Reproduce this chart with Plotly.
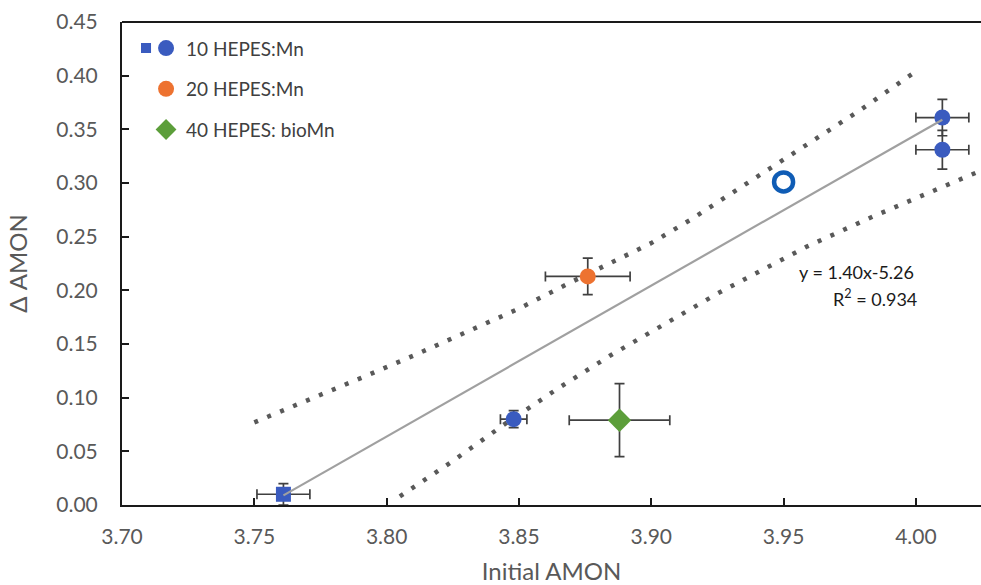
import plotly.graph_objects as go

# ---- data ----
sq_x = [3.761]; sq_y = [0.010]; sq_ex = [0.010]; sq_ey = [0.010]
c10_x = [3.848, 4.010, 4.010]; c10_y = [0.080, 0.361, 0.331]
c10_ex = [0.005, 0.010, 0.010]; c10_ey = [0.008, 0.017, 0.018]
c20_x = [3.876]; c20_y = [0.213]; c20_ex = [0.016]; c20_ey = [0.017]
c40_x = [3.888]; c40_y = [0.079]; c40_ex = [0.019]; c40_ey = [0.034]
open_x = [3.950]; open_y = [0.301]
fit_x = [3.761, 4.010]; fit_y = [0.009, 0.359]
upper_x = [3.750, 3.770, 3.790, 3.810, 3.830, 3.850, 3.870, 3.890, 3.900, 3.915, 3.934, 3.949, 3.979, 4.000]
upper_y = [0.077, 0.097, 0.118, 0.139, 0.161, 0.183, 0.208, 0.232, 0.244, 0.266, 0.296, 0.320, 0.368, 0.404]
lower_x = [3.805, 3.825, 3.845, 3.865, 3.885, 3.905, 3.925, 3.945, 3.959, 3.984, 4.025]
lower_y = [0.008, 0.041, 0.076, 0.109, 0.140, 0.169, 0.197, 0.223, 0.241, 0.269, 0.312]
x_ticks = [3.70, 3.75, 3.80, 3.85, 3.90, 3.95, 4.00]
y_ticks = [0.00, 0.05, 0.10, 0.15, 0.20, 0.25, 0.30, 0.35, 0.40, 0.45]

FONT = "Lato, 'Open Sans', sans-serif"
EB = dict(color="#404040", thickness=1.7, width=5)
BLUE = "#3a5bbf"
DOT = dict(color="#595959", width=4.5, dash="4px,10px")

fig = go.Figure()
fig.add_trace(go.Scatter(x=upper_x, y=upper_y, mode="lines", showlegend=False, line=DOT))
fig.add_trace(go.Scatter(x=lower_x, y=lower_y, mode="lines", showlegend=False, line=DOT))
fig.add_trace(go.Scatter(x=sq_x, y=sq_y, mode="markers", showlegend=False,
                         error_x=dict(type="data", array=sq_ex, **EB),
                         error_y=dict(type="data", array=sq_ey, **EB),
                         marker=dict(symbol="square", size=15, color=BLUE)))
fig.add_trace(go.Scatter(x=c10_x, y=c10_y, mode="markers", name="10 HEPES:Mn", legendgroup="a",
                         error_x=dict(type="data", array=c10_ex, **EB),
                         error_y=dict(type="data", array=c10_ey, **EB),
                         marker=dict(symbol="circle", size=16, color=BLUE)))
fig.add_trace(go.Scatter(x=c20_x, y=c20_y, mode="markers", name="20 HEPES:Mn", legendgroup="b",
                         error_x=dict(type="data", array=c20_ex, **EB),
                         error_y=dict(type="data", array=c20_ey, **EB),
                         marker=dict(symbol="circle", size=16, color="#ed7230")))
fig.add_trace(go.Scatter(x=c40_x, y=c40_y, mode="markers", name="40 HEPES: bioMn", legendgroup="c",
                         error_x=dict(type="data", array=c40_ex, **EB),
                         error_y=dict(type="data", array=c40_ey, **EB),
                         marker=dict(symbol="diamond", size=18, color="#5c9e3a")))
fig.add_trace(go.Scatter(x=open_x, y=open_y, mode="markers", showlegend=False,
                         marker=dict(symbol="circle-open", size=19, color="#0f5cb5",
                                     line=dict(width=4.5, color="#0f5cb5"))))
fig.add_trace(go.Scatter(x=fit_x, y=fit_y, mode="lines", showlegend=False,
                         line=dict(color="#a0a0a0", width=2.2)))

fig.add_annotation(x=4.0, y=0.217, xref="x", yref="y", xanchor="right", yanchor="middle",
                   text="y = 1.40x-5.26", showarrow=False,
                   font=dict(family=FONT, size=18, color="#1a1a1a"))
fig.add_annotation(x=4.001, y=0.193, xref="x", yref="y", xanchor="right", yanchor="middle",
                   text="R<sup>2</sup> = 0.934", showarrow=False,
                   font=dict(family=FONT, size=18, color="#1a1a1a"))

fig.update_layout(
    width=981, height=585,
    margin=dict(l=122, r=0, t=22, b=80),
    plot_bgcolor="white", paper_bgcolor="white",
    font=dict(family=FONT, size=21, color="#595959"),
    legend=dict(x=0.028, y=0.985, xanchor="left", yanchor="top",
                bgcolor="rgba(0,0,0,0)", font=dict(size=19, color="#404040"),
                traceorder="grouped", tracegroupgap=13),
    xaxis=dict(range=[3.70, 4.0246], tickvals=x_ticks, tickformat=".2f",
               ticks="inside", ticklen=7, tickcolor="#1a1a1a", tickwidth=1.5,
               ticklabelstandoff=12, automargin=False,
               showline=True, linecolor="#1a1a1a", linewidth=2,
               showgrid=False, zeroline=False,
               title=dict(text="Initial AMON", font=dict(size=24, color="#595959"), standoff=19)),
    yaxis=dict(range=[0, 0.45], tickvals=y_ticks, tickformat=".2f",
               ticks="inside", ticklen=7, tickcolor="#1a1a1a", tickwidth=1.5,
               ticklabelstandoff=18, automargin=False,
               showline=True, linecolor="#1a1a1a", linewidth=2,
               showgrid=False, zeroline=False,
               title=dict(text="Δ AMON", font=dict(size=24, color="#595959"), standoff=22)),
    shapes=[
        dict(type="line", xref="paper", yref="paper", x0=0, x1=1, y0=1, y1=1,
             line=dict(color="#1a1a1a", width=2)),
        dict(type="rect", xref="paper", yref="paper", x0=0.0221, x1=0.0338, y0=0.9358, y1=0.9565,
             fillcolor=BLUE, line=dict(width=0)),
    ],
)

fig.write_html("out.html", config={"responsive": False, "displayModeBar": False},
               post_script="document.body.style.margin='0';document.body.style.overflow='hidden';")
